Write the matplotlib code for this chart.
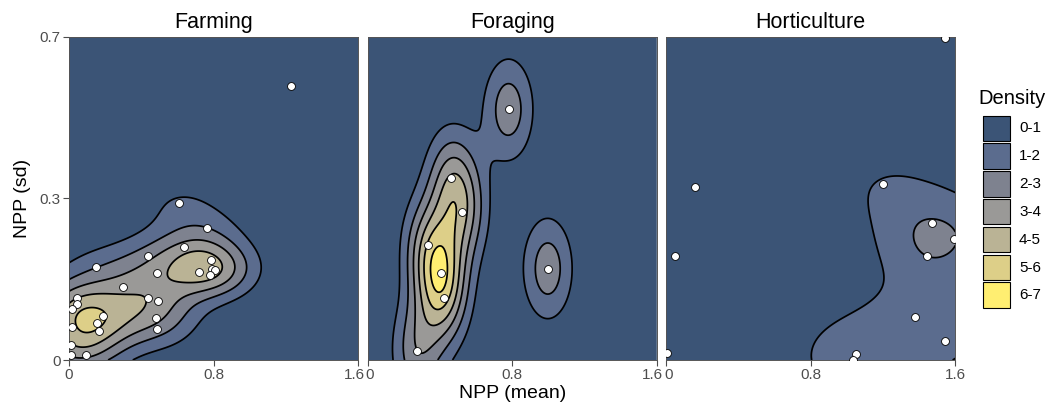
import numpy as np
import matplotlib.pyplot as plt
from matplotlib.patches import Rectangle
from matplotlib.transforms import ScaledTranslation

plt.rcParams['font.family'] = ['Liberation Sans', 'DejaVu Sans']

# NPP (mean), NPP (sd) per subsistence type
farming_x = [1.230, 0.606, 0.763, 0.636, 0.438, 0.151, 0.785, 0.721, 0.791, 0.809,
             0.782, 0.486, 0.299, 0.044, 0.438, 0.490, 0.044, 0.017, 0.188, 0.155,
             0.479, 0.164, 0.484, 0.017, 0.013, 0.013, 0.096]
farming_y = [0.594, 0.341, 0.286, 0.244, 0.225, 0.202, 0.216, 0.191, 0.198, 0.195,
             0.184, 0.188, 0.159, 0.134, 0.134, 0.127, 0.121, 0.110, 0.095, 0.081,
             0.090, 0.062, 0.068, 0.071, 0.032, 0.011, 0.011]

foraging_x = [0.780, 0.464, 0.525, 0.332, 0.404, 0.422, 0.275, 0.997]
foraging_y = [0.543, 0.395, 0.320, 0.248, 0.189, 0.135, 0.020, 0.198]

horti_x = [1.543, 0.160, 1.198, 1.470, 1.595, 1.442, 0.048, 1.377, 1.545, 1.051, 1.036, 0.004]
horti_y = [0.698, 0.375, 0.381, 0.297, 0.263, 0.225, 0.225, 0.094, 0.042, 0.014, 0.001, 0.016]

panels = ["Farming", "Foraging", "Horticulture"]
data = {"Farming": (farming_x, farming_y),
        "Foraging": (foraging_x, foraging_y),
        "Horticulture": (horti_x, horti_y)}
# kernel bandwidth adjustment per panel (x, y)
bw_adjust = {"Farming": (0.93, 0.93), "Foraging": (0.93, 0.93),
             "Horticulture": (0.75, 0.52)}

levels = [0, 1, 2, 3, 4, 5, 6, 7]
level_labels = ["0-1", "1-2", "2-3", "3-4", "4-5", "5-6", "6-7"]
# cividis(7)
fill_colors = ["#00204D", "#2A406C", "#575C6D", "#7C7B78", "#A69D75", "#D3C164", "#FFEA46"]
fill_alpha = 0.77

xlim = (0, 1.6)
ylim = (0, 0.7)


def bandwidth_nrd(v):
    v = np.asarray(v)
    q1, q3 = np.percentile(v, [25, 75])
    h = (q3 - q1) / 1.34
    return 4 * 1.06 * min(np.std(v, ddof=1), h) * len(v) ** (-0.2)


def kde2d(x, y, adjust, n=300):
    x = np.asarray(x)
    y = np.asarray(y)
    hx = bandwidth_nrd(x) * adjust[0] / 4
    hy = bandwidth_nrd(y) * adjust[1] / 4
    gx = np.linspace(xlim[0], xlim[1], n)
    gy = np.linspace(ylim[0], ylim[1], n)
    ax_ = (gx[:, None] - x[None, :]) / hx
    ay_ = (gy[:, None] - y[None, :]) / hy
    dx = np.exp(-0.5 * ax_ ** 2) / np.sqrt(2 * np.pi)
    dy = np.exp(-0.5 * ay_ ** 2) / np.sqrt(2 * np.pi)
    z = dy @ dx.T / (len(x) * hx * hy)
    return gx, gy, z


fig = plt.figure(figsize=(10.63, 4.09), dpi=100)
W, H = 1063, 409
lefts = [69, 367.5, 666]
pw = 289.3
top, bottom = 36.7, 360


def shift(px):
    return ScaledTranslation(px / 100, 0, fig.dpi_scale_trans)


for i, name in enumerate(panels):
    ax = fig.add_axes([lefts[i] / W, (H - bottom) / H, pw / W, (bottom - top) / H])
    px, py = data[name]
    gx, gy, z = kde2d(px, py, bw_adjust[name])
    ax.contourf(gx, gy, z, levels=levels, colors=fill_colors, alpha=fill_alpha,
                antialiased=True)
    ax.contour(gx, gy, z, levels=levels[1:], colors="black", linewidths=1.25)
    ax.scatter(px, py, s=32, facecolor="white", edgecolor="black", linewidths=0.6,
               zorder=5)
    ax.set_xlim(xlim)
    ax.set_ylim(ylim)
    ax.set_xticks([0, 0.8, 1.6])
    ax.set_xticklabels(["0", "0.8", "1.6"])
    if i == 0:
        ax.set_yticks([0, 0.35, 0.7])
        ax.set_yticklabels(["0", "0.3", "0.7"])
        ax.set_ylabel("NPP (sd)", fontsize=14, labelpad=6)
    else:
        ax.set_yticks([])
    if i == 1:
        ax.set_xlabel("NPP (mean)", fontsize=14, labelpad=2)
    ax.tick_params(labelsize=11, colors="#4d4d4d", length=4, width=0.8, pad=2)
    labs = ax.get_xticklabels()
    if i < 2:
        labs[2].set_transform(labs[2].get_transform() + shift(-4))
    if i > 0:
        labs[0].set_transform(labs[0].get_transform() + shift(2.5))
    for side in ax.spines.values():
        side.set_color("#555555")
        side.set_linewidth(0.7)
    ax.set_title(name, fontsize=15.5, pad=6)

# legend
lg = fig.add_axes([0, 0, 1, 1])
lg.set_xlim(0, W)
lg.set_ylim(H, 0)
lg.axis("off")
lg.text(978, 98, "Density", fontsize=14.5, va="center", ha="left")
for k, lab in enumerate(level_labels):
    y0 = 115.5 + k * 27.8
    lg.add_patch(Rectangle((983, y0), 26.5, 25.5, facecolor=fill_colors[k],
                           alpha=fill_alpha, edgecolor="none"))
    lg.add_patch(Rectangle((983, y0), 26.5, 25.5, facecolor="none",
                           edgecolor="black", linewidth=0.8))
    lg.text(1019, y0 + 13, lab, fontsize=11, va="center", ha="left")

fig.savefig("out.png", dpi=100)
